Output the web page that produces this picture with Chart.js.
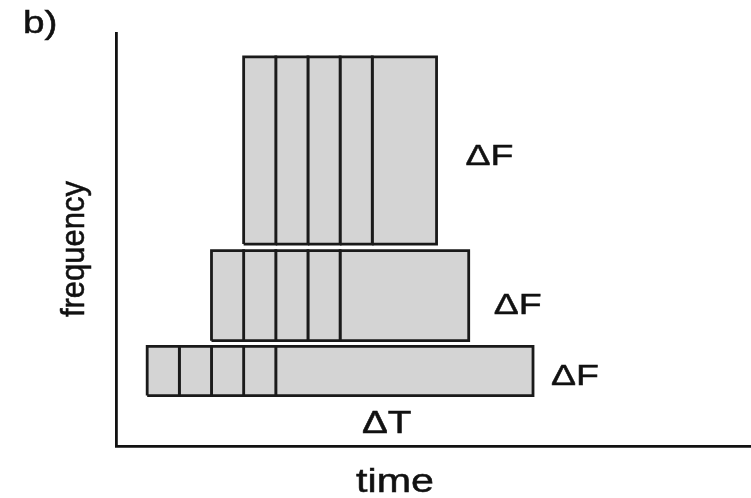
<!DOCTYPE html>
<html>
<head>
<meta charset="utf-8">
<script src="https://cdn.jsdelivr.net/npm/chart.js@4/dist/chart.umd.min.js"></script>
<style>
  html, body { margin: 0; padding: 0; background: #ffffff; }
  #wrap { width: 751px; height: 498px; }
</style>
</head>
<body>
<div id="wrap"><canvas id="c" width="751" height="498"></canvas></div>
<script>
// Time–frequency tiling: three analysis windows, each split into cells along time.
// Cell edges along the time axis for each window (bottom, middle, top).
const cellEdges = [
  [0, 1, 2, 3, 4, 12],
  [2, 3, 4, 5, 6, 10],
  [3, 4, 5, 6, 7, 9]
];
// Frequency extent of each window.
const freqLow  = [12.2, 25.5, 48.9];
const freqHigh = [24.1, 47.3, 94.2];

// Text drawn on the chart.
const bandLabels = ['\u0394F', '\u0394F', '\u0394F'];
const timeSpanLabel = '\u0394T';
const panelLabel = 'b)';
const xTitle = 'time';
const yTitle = 'frequency';

// One closed rectangle per cell, drawn as a filled scatter path.
const datasets = [];
cellEdges.forEach((edges, w) => {
  for (let i = 0; i < edges.length - 1; i++) {
    const t0 = edges[i], t1 = edges[i + 1];
    const f0 = freqLow[w], f1 = freqHigh[w];
    datasets.push({
      data: [
        { x: t0, y: f0 }, { x: t1, y: f0 },
        { x: t1, y: f1 }, { x: t0, y: f1 }, { x: t0, y: f0 }
      ],
      showLine: true,
      fill: 'shape',
      backgroundColor: '#d4d4d4',
      borderColor: '#1a1a1a',
      borderWidth: 2.8,
      borderJoinStyle: 'miter',
      pointRadius: 0,
      pointHoverRadius: 0,
      tension: 0,
      clip: false
    });
  }
});

// Text is slightly widened horizontally, as in the original figure.
const STRETCH = 1.25;
function stretchedText(ctx, text, x, y, size, align) {
  ctx.save();
  ctx.font = size + 'px "Liberation Sans", Arial, sans-serif';
  ctx.fillStyle = '#111111';
  ctx.strokeStyle = '#111111';
  ctx.lineWidth = 0.5;
  ctx.textBaseline = 'alphabetic';
  const w = ctx.measureText(text).width * STRETCH;
  let left = x;
  if (align === 'center') left = x - w / 2;
  ctx.translate(left, y);
  ctx.scale(STRETCH, 1);
  ctx.textAlign = 'left';
  ctx.fillText(text, 0, 0);
  ctx.strokeText(text, 0, 0);
  ctx.restore();
}

const labelsPlugin = {
  id: 'tileLabels',
  afterDraw(chart) {
    const ctx = chart.ctx;
    const xs = chart.scales.x, ys = chart.scales.y;

    // ΔF beside each window
    const dfGap = [18, 25, 29];
    const dfDrop = [14, 18, 15];
    cellEdges.forEach((edges, w) => {
      const right = xs.getPixelForValue(edges[edges.length - 1]);
      const mid = (ys.getPixelForValue(freqLow[w]) + ys.getPixelForValue(freqHigh[w])) / 2;
      stretchedText(ctx, bandLabels[w], right + dfGap[w], mid + dfDrop[w], 30);
    });

    // ΔT under the widest window
    const bottomWin = ys.getPixelForValue(freqLow[0]);
    stretchedText(ctx, timeSpanLabel, xs.getPixelForValue(7.45), bottomWin + 37, 31, 'center');

    // axis titles
    stretchedText(ctx, xTitle, 395, 492, 33, 'center');

    ctx.save();
    ctx.font = '31px "Liberation Sans", Arial, sans-serif';
    ctx.fillStyle = '#111111';
    ctx.strokeStyle = '#111111';
    ctx.lineWidth = 0.5;
    ctx.textBaseline = 'alphabetic';
    ctx.textAlign = 'center';
    ctx.translate(84, 249);
    ctx.rotate(-Math.PI / 2);
    ctx.scale(1, 1.1);
    ctx.fillText(yTitle, 0, 0);
    ctx.strokeText(yTitle, 0, 0);
    ctx.restore();

    // panel tag
    stretchedText(ctx, panelLabel, 23, 33, 31);
  }
};

new Chart(document.getElementById('c'), {
  type: 'scatter',
  data: { datasets },
  options: {
    responsive: false,
    animation: false,
    devicePixelRatio: 1,
    layout: { padding: { left: 116, top: 33, right: 0, bottom: 52 } },
    plugins: {
      legend: { display: false },
      tooltip: { enabled: false },
      title: { display: false }
    },
    scales: {
      x: {
        type: 'linear',
        min: -0.97,
        max: 18.78,
        ticks: { display: false },
        grid: { display: false, drawTicks: false },
        border: { display: true, color: '#111111', width: 2.8 }
      },
      y: {
        type: 'linear',
        min: 0,
        max: 100,
        ticks: { display: false },
        grid: { display: false, drawTicks: false },
        border: { display: true, color: '#111111', width: 2.8 }
      }
    }
  },
  plugins: [labelsPlugin]
});
</script>
</body>
</html>
